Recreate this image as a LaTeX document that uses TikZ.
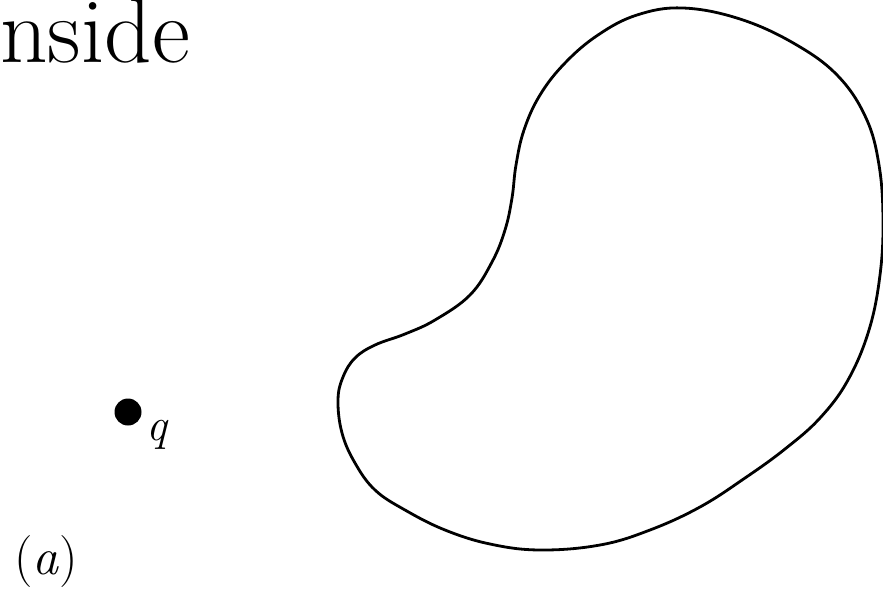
\documentclass[tikz,border=0pt]{standalone}
\begin{document}
\begin{tikzpicture}[x=1pt,y=-1pt,
  outline/.style={line width=2.8pt, line join=round},
  dotnode/.style={circle, fill=black, minimum size=27pt, inner sep=0pt},
  lbl/.style={inner sep=0pt}]
\useasboundingbox (0,0) rectangle (883,589);
% title fragment
\node[lbl, anchor=base east] (title) at (190,62) {\fontsize{93}{100}\selectfont nside};
% point q
\node[dotnode] (q) at (128,412) {};
\node[lbl, anchor=base west] (qlbl) at (146,440) {\fontsize{46}{52}\selectfont\itshape q};
% caption
\node[lbl, anchor=base west] (cap) at (14,574) {\fontsize{52}{58}\selectfont (\textit{a})};
% blob
\draw[outline] plot[smooth cycle, tension=0.65] coordinates {
 (683,8) (740,19) (795,44) (838,76) (866,118) (879,165) (883,220) (880,275)
 (869,330) (848,380) (820,418) (785,449) (745,478) (700,507) (650,530)
 (600,545) (540,550) (490,544) (445,530) (405,510) (375,490) (355,463)
 (342,433) (338,400) (343,377) (355,358) (375,345) (405,334) (435,320)
 (470,295) (492,262) (505,230) (512,198) (516,165) (524,130)
 (540,95) (565,63) (598,35) (637,15)};
\end{tikzpicture}
\end{document}
